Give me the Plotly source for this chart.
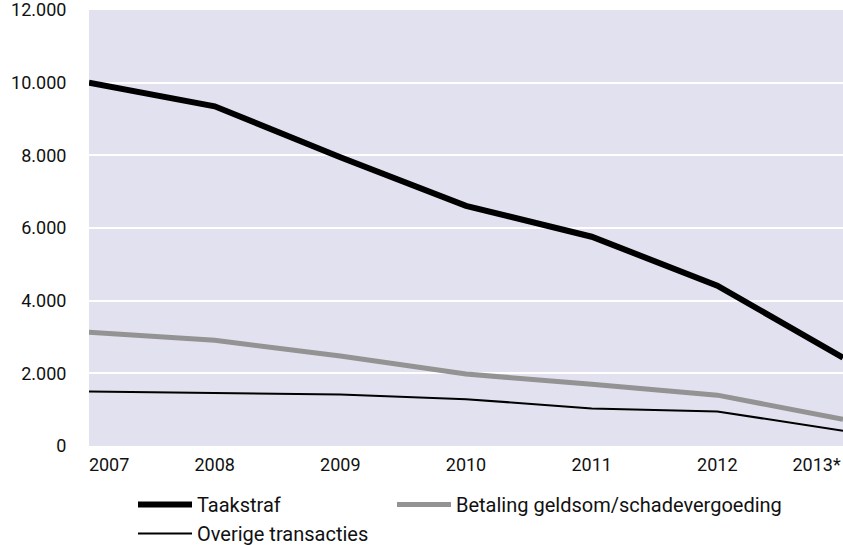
import plotly.graph_objects as go

years = [2007, 2008, 2009, 2010, 2011, 2012, 2013]
year_labels = ["2007", "2008", "2009", "2010", "2011", "2012", "2013*"]
taakstraf = [10000, 9350, 7950, 6610, 5760, 4415, 2430]
betaling = [3130, 2910, 2480, 1980, 1700, 1400, 735]
overige = [1500, 1455, 1415, 1290, 1035, 950, 420]
y_ticks = [0, 2000, 4000, 6000, 8000, 10000, 12000]

FONT = "Roboto"
BG = "#e2e1ef"
TXT = "#111111"

# plot-area geometry in pixels
L, R, T, B = 89, 0, 10, 99
W, H = 843, 545
PW, PH = W - L - R, H - T - B

fig = go.Figure()
fig.add_trace(go.Scatter(x=years, y=taakstraf, name="Taakstraf", mode="lines",
                         line=dict(color="#000000", width=6), legend="legend"))
fig.add_trace(go.Scatter(x=years, y=betaling, name="Betaling geldsom/schadevergoeding",
                         mode="lines", line=dict(color="#939393", width=5),
                         legend="legend2"))
fig.add_trace(go.Scatter(x=years, y=overige, name="Overige transacties", mode="lines",
                         line=dict(color="#000000", width=2), legend="legend"))

# label positions: first/last labels shifted inward so they stay inside the frame
tick_pos = list(years)
tick_pos[0] = years[0] + 0.16
tick_pos[-1] = years[-1] - 0.21

fig.update_layout(
    width=W, height=H,
    margin=dict(l=L, r=R, t=T, b=B, autoexpand=False),
    paper_bgcolor="white",
    plot_bgcolor=BG,
    separators=",.",
    font=dict(family=FONT, size=18, color=TXT),
    showlegend=True,
    xaxis=dict(range=[years[0], years[-1]], tickvals=tick_pos, ticktext=year_labels,
               showgrid=False, zeroline=False, showline=False, automargin=False,
               ticks="outside", ticklen=2, tickcolor="rgba(0,0,0,0)",
               ticklabeloverflow="allow",
               tickfont=dict(family=FONT, size=18, color=TXT)),
    yaxis=dict(range=[0, 12000.5], tickvals=y_ticks, tickformat=",d",
               showgrid=True, gridcolor="white", gridwidth=2,
               zeroline=False, showline=False, automargin=False,
               ticks="outside", ticklen=18, tickcolor="rgba(0,0,0,0)",
               ticklabeloverflow="allow",
               tickfont=dict(family=FONT, size=18, color=TXT)),
    legend=dict(x=(133 - L) / PW, y=(PH + T - 485) / PH, xanchor="left", yanchor="top",
                orientation="v", tracegroupgap=0, itemwidth=54,
                font=dict(family=FONT, size=20, color=TXT),
                bgcolor="rgba(0,0,0,0)"),
    legend2=dict(x=(392 - L) / PW, y=(PH + T - 485) / PH, xanchor="left", yanchor="top",
                 orientation="v", itemwidth=54,
                 font=dict(family=FONT, size=20, color=TXT),
                 bgcolor="rgba(0,0,0,0)"),
)

fig.write_html(
    "out.html",
    config={"displayModeBar": False},
    post_script="document.body.style.margin='0';document.body.style.overflow='hidden';",
)
